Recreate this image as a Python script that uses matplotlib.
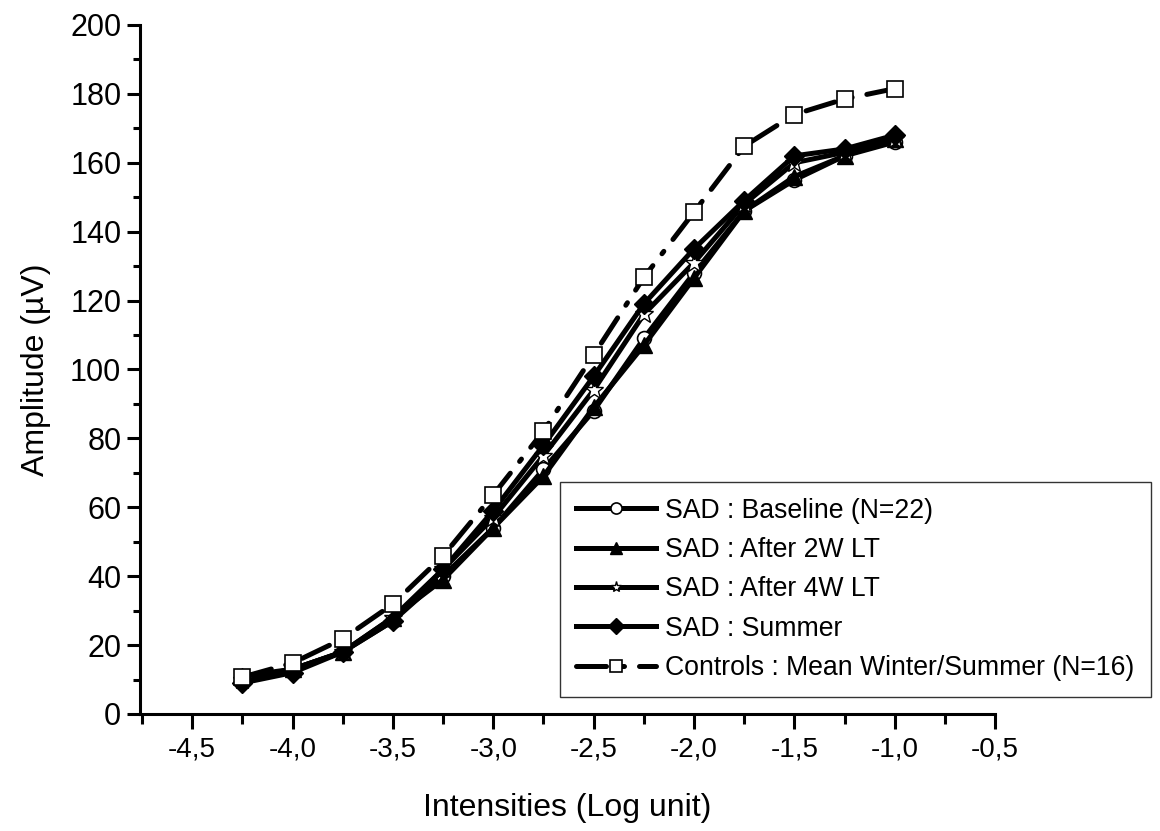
import matplotlib.pyplot as plt
from matplotlib.ticker import MultipleLocator, FuncFormatter

plt.rcParams['font.family'] = ['Liberation Sans', 'DejaVu Sans']

# Intensités (log)
x = [-4.25, -4.0, -3.75, -3.5, -3.25, -3.0, -2.75, -2.5, -2.25, -2.0, -1.75, -1.5, -1.25, -1.0]

baseline = [10, 13, 18, 27, 40, 54, 71, 88, 109, 128, 146, 155, 162, 166]
after_2w = [11, 13, 18, 28, 39, 54, 69, 89, 107, 126.5, 146, 156, 162, 167]
after_4w = [10, 13, 18, 28, 42, 57, 75, 94, 116, 131, 148, 160, 163, 167]
summer = [9, 12, 18, 27, 42, 59, 78, 98, 119, 135, 149, 162, 164, 168]
controls = [10.7, 14.8, 21.8, 31.9, 45.9, 63.6, 82.1, 104.2, 126.7, 145.7, 164.8, 174, 178.5, 181.5]

labels = ['SAD : Baseline (N=22)', 'SAD : After 2W LT', 'SAD : After 4W LT',
          'SAD : Summer', 'Controls : Mean Winter/Summer (N=16)']

fig = plt.figure(figsize=(11.6, 8.31), dpi=100)
ax = fig.add_axes([0.1207, 0.1408, 0.7371, 0.8292])

lw = 3.6
ax.plot(x, baseline, color='black', lw=lw, marker='o', ms=10, mfc='white', mec='black', mew=1.2, label=labels[0])
ax.plot(x, after_2w, color='black', lw=lw, marker='^', ms=12, mfc='black', mec='black', label=labels[1])
ax.plot(x, after_4w, color='black', lw=lw, marker='*', ms=14, mfc='white', mec='black', mew=1.0, label=labels[2])
ax.plot(x, summer, color='black', lw=lw, marker='D', ms=10, mfc='black', mec='black', label=labels[3])
ax.plot(x, controls, color='black', lw=lw, ls=(0, (6, 3, 0.6, 3)), dash_capstyle='round',
        marker='s', ms=12, mfc='white', mec='black', mew=1.2, label=labels[4])

ax.set_xlim(-4.76, -0.5)
ax.set_ylim(0, 200)
ax.xaxis.set_major_locator(MultipleLocator(0.5))
ax.xaxis.set_minor_locator(MultipleLocator(0.25))
ax.yaxis.set_major_locator(MultipleLocator(20))
ax.yaxis.set_minor_locator(MultipleLocator(10))
ax.xaxis.set_major_formatter(FuncFormatter(lambda v, p: ('%.1f' % v).replace('.', ',')))

for s in ['top', 'right']:
    ax.spines[s].set_visible(False)
for s in ['left', 'bottom']:
    ax.spines[s].set_linewidth(2.2)

ax.tick_params(axis='x', which='major', direction='out', length=11, width=2.2, labelsize=20, pad=5)
ax.tick_params(axis='x', which='minor', direction='out', length=7, width=2.2)
ax.tick_params(axis='y', which='major', direction='out', length=9.5, width=2.2, labelsize=22, pad=4)
ax.tick_params(axis='y', which='minor', direction='out', length=5, width=2.2)

ax.set_xlabel('Intensities (Log unit)', fontsize=23, labelpad=22)
ax.set_ylabel('Amplitude (µV)', fontsize=23, labelpad=14)

leg = fig.legend(loc='lower left', bbox_to_anchor=(560 / 1160, 1 - 697 / 831), bbox_transform=fig.transFigure,
                 fontsize=19.2, frameon=True, fancybox=False, edgecolor='black', handlelength=3.0,
                 labelspacing=0.5, borderpad=0.6, handletextpad=0.35, borderaxespad=0)
leg.get_frame().set_linewidth(1.0)
for h in leg.legend_handles:
    h.set_markersize(8)

fig.savefig('out.png', dpi=100)
